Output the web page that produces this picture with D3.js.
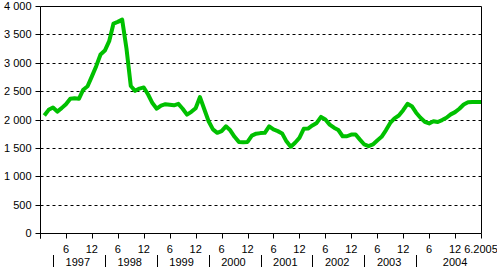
<!DOCTYPE html>
<html><head><meta charset="utf-8">
<script src="https://cdn.jsdelivr.net/npm/d3@7"></script>
<style>body{margin:0;background:#fff;}svg{display:block;}text{font-family:Arial,"Liberation Sans",sans-serif;font-size:11px;fill:#000;}</style>
</head><body>
<svg id="c" width="497" height="268"></svg>
<script>
// Monthly values, Jan 1997 .. Jun 2005 (month index 1..102)
const values = [
2070,2170,2210,2140,2200,2270,2365,2375,2365,2525,2585,2760,
2940,3145,3215,3380,3690,3720,3760,3250,2590,2505,2545,2565,
2440,2290,2190,2245,2270,2260,2250,2275,2190,2085,2135,2200,
2395,2180,1970,1825,1765,1795,1880,1810,1695,1605,1600,1605,
1715,1750,1760,1765,1880,1825,1795,1755,1615,1520,1590,1675,
1835,1840,1895,1940,2045,2000,1910,1855,1815,1705,1705,1735,
1735,1645,1560,1530,1560,1630,1695,1810,1940,2020,2070,2165,
2275,2235,2120,2030,1960,1930,1970,1955,1990,2030,2090,2130,
2190,2265,2305,2310,2310,2310];
const years = ["1997","1998","1999","2000","2001","2002","2003","2004"];
const yTicks = [0,500,1000,1500,2000,2500,3000,3500,4000];
const monthTicks = d3.range(0,103,6);
const monthTickLabels = {6:"6",12:"12",18:"6",24:"12",30:"6",36:"12",42:"6",48:"12",54:"6",60:"12",66:"6",72:"12",78:"6",84:"12",90:"6",96:"12",102:"6.2005"};

const svg = d3.select("#c");
const x = d3.scaleLinear().domain([0,102]).range([40,481]);
const y = d3.scaleLinear().domain([0,4000]).range([233,6]);
const cy = v => Math.round(y(v)) + 0.5;
const cx = v => Math.round(x(v)) + 0.5;
const fmt = v => d3.format(",")(v).replace(/,/g," ");

// gridlines
svg.append("g").selectAll("line").data(yTicks.filter(v=>v>0&&v<4000)).join("line")
  .attr("x1",cx(0)).attr("x2",cx(102)).attr("y1",cy).attr("y2",cy)
  .attr("stroke","#000").attr("stroke-width",1).attr("stroke-dasharray","3,3");
// top & right border
svg.append("line").attr("x1",cx(0)).attr("x2",cx(102)).attr("y1",cy(4000)).attr("y2",cy(4000)).attr("stroke","#000");
svg.append("line").attr("x1",cx(102)).attr("x2",cx(102)).attr("y1",cy(4000)).attr("y2",cy(0)).attr("stroke","#000");

// y axis
const ya = svg.append("g").attr("transform",`translate(${cx(0)},0)`);
ya.append("line").attr("x1",0).attr("x2",0).attr("y1",cy(4000)).attr("y2",cy(0)+5).attr("stroke","#000");
ya.selectAll("line.t").data(yTicks).join("line").attr("class","t")
  .attr("x1",-5).attr("x2",0).attr("y1",cy).attr("y2",cy).attr("stroke","#000");
ya.selectAll("text").data(yTicks).join("text")
  .attr("x",-9).attr("y",d=>y(d)+4).attr("text-anchor","end").text(fmt);

// x axis
const xa = svg.append("g");
xa.append("line").attr("x1",cx(0)).attr("x2",cx(102)).attr("y1",cy(0)).attr("y2",cy(0)).attr("stroke","#000");
xa.selectAll("line.t").data(monthTicks).join("line").attr("class","t")
  .attr("x1",cx).attr("x2",cx).attr("y1",cy(0)).attr("y2",cy(0)+5).attr("stroke","#000");
xa.selectAll("text.m").data(monthTicks.filter(m=>monthTickLabels[m])).join("text").attr("class","m")
  .attr("x",d=>x(d)).attr("y",253).attr("text-anchor","middle").text(d=>monthTickLabels[d]);
// year separators and labels
xa.selectAll("line.s").data(years).join("line").attr("class","s")
  .attr("x1",(d,i)=>cx(3+12*i)).attr("x2",(d,i)=>cx(3+12*i)).attr("y1",255).attr("y2",267).attr("stroke","#000");
xa.selectAll("text.y").data(years).join("text").attr("class","y")
  .attr("x",(d,i)=> i===years.length-1 ? x(96) : x(3+12*i+5.75)).attr("y",266).attr("text-anchor","middle").text(d=>d);

// line
const line = d3.line().x((d,i)=>x(i+1)).y(d=>y(d));
svg.append("path").datum(values).attr("d",line).attr("fill","none")
  .attr("stroke","#00c000").attr("stroke-width",4).attr("stroke-linejoin","round");
</script>
</body></html>
